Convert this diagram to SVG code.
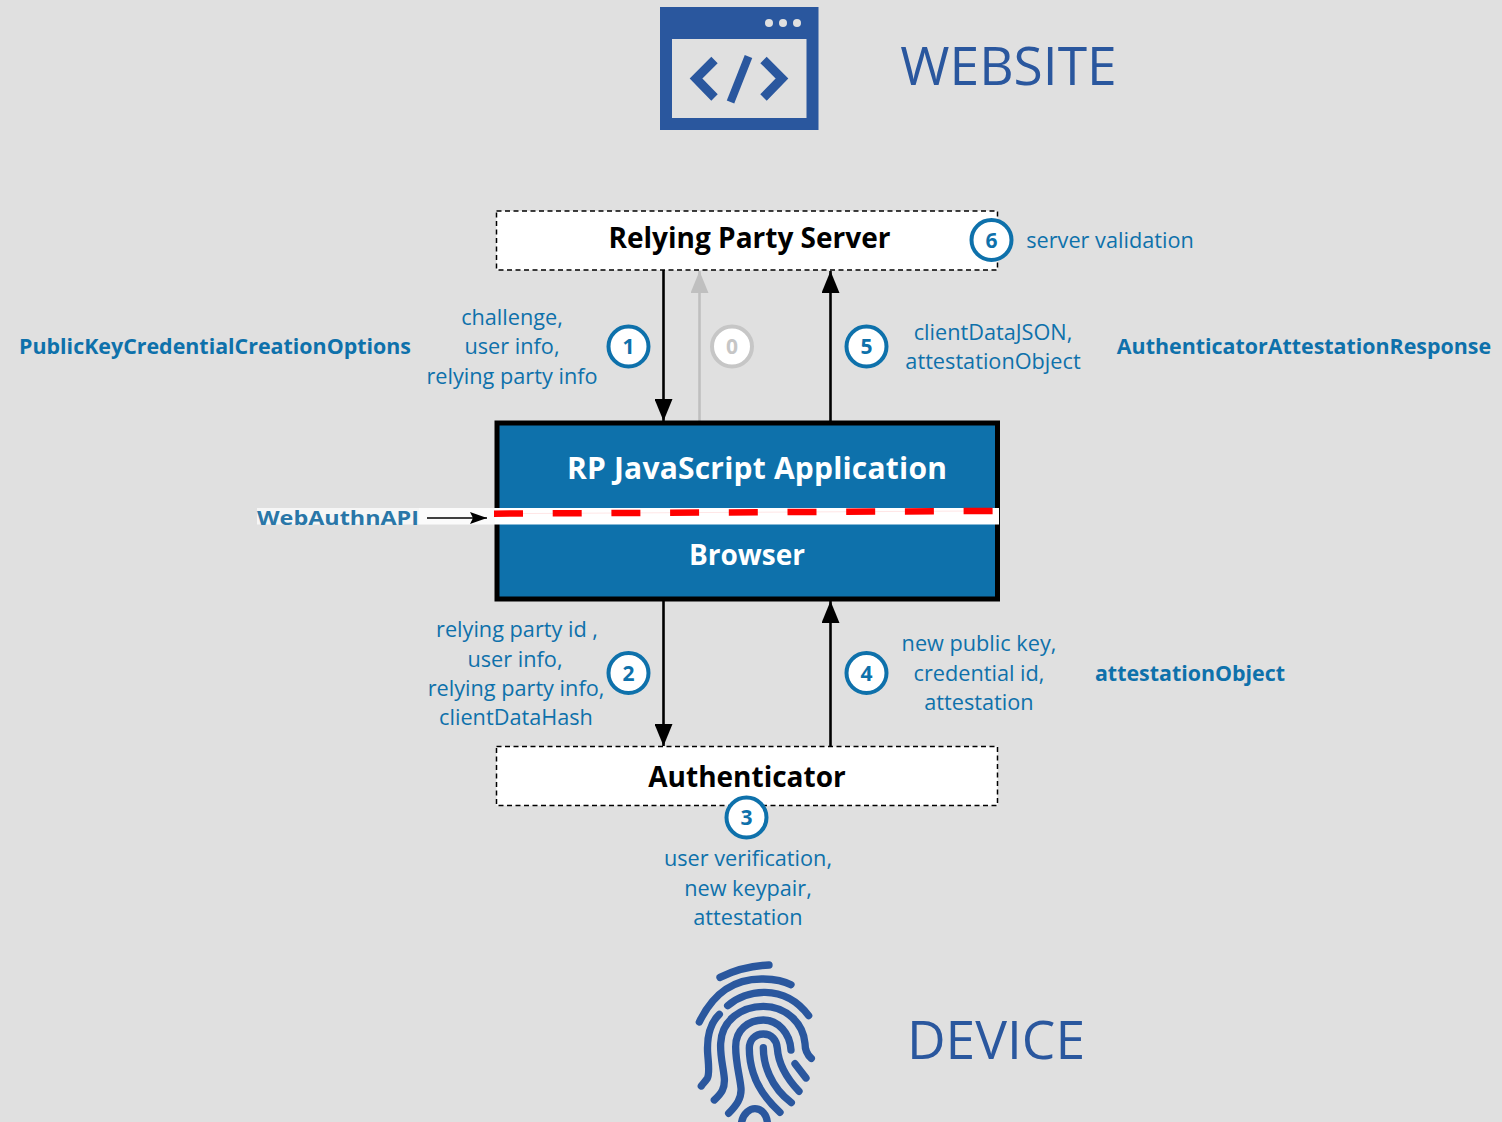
<svg xmlns="http://www.w3.org/2000/svg" width="1502" height="1122" viewBox="0 0 1502 1122">
<style>
text{font-family:"Open Sans","Noto Sans","Liberation Sans",sans-serif;text-anchor:middle}
.l{font-size:21.700px;fill:#0e71ab}
.b{font-size:21.400px;font-weight:700;fill:#0e71ab}
.h{font-size:28px;font-weight:700;fill:#000}
.w{font-size:28px;font-weight:700;fill:#fff}
.t{font-size:53.300px;fill:#2a579e}
.n{font-size:21px;font-weight:700;fill:#0e71ab}
.c{fill:#fff;stroke:#0e71ab;stroke-width:4}
.dash{fill:#fff;stroke:#000;stroke-width:1.500;stroke-dasharray:5 3.500}
.k{stroke:#000;stroke-width:2.600;fill:none}
.fp{fill:none;stroke:#2a579e;stroke-width:22;stroke-linecap:round}
</style>
<defs>
<marker id="a" markerUnits="userSpaceOnUse" markerWidth="22" markerHeight="18" refX="22" refY="9" orient="auto"><path d="M0 0L22 9L0 18Z" fill="#000"/></marker>
<marker id="g" markerUnits="userSpaceOnUse" markerWidth="22" markerHeight="18" refX="22" refY="9" orient="auto"><path d="M0 0L22 9L0 18Z" fill="#bfbfbf"/></marker>
<marker id="s" markerUnits="userSpaceOnUse" markerWidth="17" markerHeight="12" refX="17" refY="6" orient="auto"><path d="M0 0L17 6L0 12L3 6Z" fill="#000"/></marker>
</defs>
<rect width="1502" height="1122" fill="#e0e0e0"/>
<g id="website">
<rect x="660" y="7" width="158.500" height="123" fill="#2a579e"/>
<rect x="672" y="39" width="134.500" height="79" fill="#e0e0e0"/>
<circle cx="769" cy="23" r="4" fill="#e0e0e0"/><circle cx="783" cy="23" r="4" fill="#e0e0e0"/><circle cx="797" cy="23" r="4" fill="#e0e0e0"/>
<path d="M714.500 60L696 78.500L714.500 97.500M763.500 60L782 78.500L763.500 97.500" fill="none" stroke="#2a579e" stroke-width="9"/>
<path d="M748.500 56.500L730.500 102" fill="none" stroke="#2a579e" stroke-width="8"/>
<text class="t" x="1008.500" y="85">WEBSITE</text>
</g>
<g id="device">
<g transform="translate(670 950) scale(.3333)">
<path class="fp" d="M150 82Q220 48 297 45"/>
<path class="fp" d="M88 216C130 130 190 85 280 87C310 88 340 92 363 104"/>
<path class="fp" d="M173 167C210 135 250 127 285 127C340 128 385 155 416 197"/>
<path class="fp" d="M148 193C120 220 110 260 113 310C115 340 120 370 112 385C105 395 100 400 94 408"/>
<path class="fp" d="M133 450C155 430 165 415 163 385C160 350 150 320 152 280C155 210 215 170 280 169C350 170 400 220 405 280C405 300 412 315 424 325"/>
<path class="fp" d="M176 490C200 465 215 445 213 415C210 380 197 340 197 290C197 240 235 210 280 210C325 210 360 250 363 300"/>
<path class="fp" d="M330 487C290 450 262 410 250 370C240 340 238 320 238 295C238 270 255 252 280 252C305 252 320 270 322 295C325 340 350 385 387 424"/>
<path class="fp" d="M280 293C280 340 300 410 364 458"/>
<path class="fp" d="M375 341L408 384"/>
<path class="fp" d="M215 516C220 490 240 476 255 476C275 476 290 495 292 516"/>
</g>
<text class="t" x="996" y="1059">DEVICE</text>
</g>
<g id="connectors">
<path class="k" d="M663.500 270V421" marker-end="url(#a)"/>
<path d="M699.500 421V271" stroke="#bfbfbf" stroke-width="2.600" fill="none" marker-end="url(#g)"/>
<path class="k" d="M830.500 421V271" marker-end="url(#a)"/>
<path class="k" d="M663.500 601V746" marker-end="url(#a)"/>
<path class="k" d="M830.500 746V601" marker-end="url(#a)"/>
</g>
<g id="rp-server">
<rect class="dash" x="496.500" y="211" width="501" height="59"/>
<text class="h" x="749.500" y="248">Relying Party Server</text>
</g>
<g id="app">
<rect x="497" y="423" width="500.500" height="176" fill="#0e71ab" stroke="#000" stroke-width="5"/>
<text class="w" x="757" y="479" style="font-size:30px" letter-spacing=".2">RP JavaScript Application</text>
<text class="w" x="747" y="565">Browser</text>
</g>
<g id="webauthn">
<rect x="257" y="508" width="162" height="16.500" fill="#f6f6f6"/>
<rect x="419" y="508" width="76" height="16.500" fill="#fbfbfb"/>
<rect x="495" y="508" width="504" height="16.500" fill="#fff"/>
<path d="M495 513.700L993 510.900" stroke="#ffe6e6" stroke-width="1" fill="none"/>
<path d="M494 513.700L993 510.900" stroke="#f00" stroke-width="6.500" stroke-dasharray="29 29.700" fill="none"/>
<text class="b" x="338" y="524.500" style="font-size:20px;fill:#2a77a8" textLength="162" lengthAdjust="spacingAndGlyphs">WebAuthnAPI</text>
<path d="M427 518H487" stroke="#000" stroke-width="1.500" marker-end="url(#s)"/>
</g>
<g id="authenticator">
<rect class="dash" x="496.500" y="746.500" width="501" height="59"/>
<text class="h" x="747" y="787">Authenticator</text>
</g>
<g id="badge-0"><circle cx="732" cy="346.500" r="20" fill="#fff" stroke="#c6c6c6" stroke-width="4"/><text class="n" x="732" y="354" style="fill:#c6c6c6">0</text></g>
<g id="badge-1"><circle class="c" cx="628.500" cy="346.500" r="20"/><text class="n" x="628.500" y="354">1</text></g>
<g id="badge-2"><circle class="c" cx="628.500" cy="673" r="20"/><text class="n" x="628.500" y="680.500">2</text></g>
<g id="badge-3"><circle class="c" cx="746.500" cy="817.500" r="20"/><text class="n" x="746.500" y="825">3</text></g>
<g id="badge-4"><circle class="c" cx="866.500" cy="673" r="20"/><text class="n" x="866.500" y="680.500">4</text></g>
<g id="badge-5"><circle class="c" cx="866.500" cy="346.500" r="20"/><text class="n" x="866.500" y="354">5</text></g>
<g id="badge-6"><circle class="c" cx="991.500" cy="240" r="20"/><text class="n" x="991.500" y="247.500">6</text></g>
<g id="labels">
<text class="l" x="1110" y="248">server validation</text>
<text class="l" x="512" y="325">challenge,</text>
<text class="l" x="512" y="354">user info,</text>
<text class="l" x="512" y="384">relying party info</text>
<text class="b" x="215" y="354">PublicKeyCredentialCreationOptions</text>
<text class="l" x="993" y="340">clientDataJSON,</text>
<text class="l" x="993" y="369">attestationObject</text>
<text class="b" x="1304" y="354">AuthenticatorAttestationResponse</text>
<text class="l" x="517" y="637">relying party id ,</text>
<text class="l" x="515" y="666.500">user info,</text>
<text class="l" x="516" y="696">relying party info,</text>
<text class="l" x="516" y="725">clientDataHash</text>
<text class="l" x="979" y="651">new public key,</text>
<text class="l" x="979" y="681">credential id,</text>
<text class="l" x="979" y="710">attestation</text>
<text class="b" x="1190" y="681">attestationObject</text>
<text class="l" x="748" y="866">user verification,</text>
<text class="l" x="748" y="896">new keypair,</text>
<text class="l" x="748" y="925">attestation</text>
</g>
</svg>
